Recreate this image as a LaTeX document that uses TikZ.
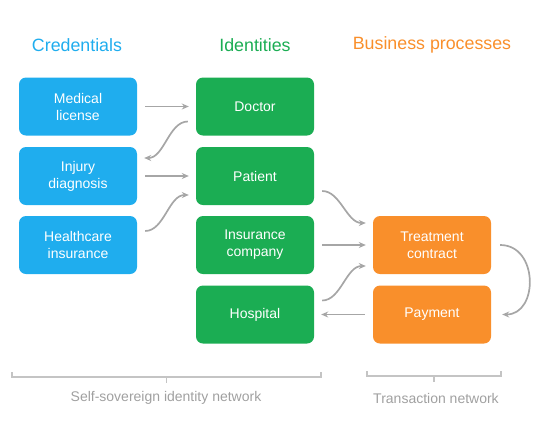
\documentclass[tikz,border=0pt]{standalone}
\usepackage{fontspec}
\setmainfont{Liberation Sans}
\usepackage{xcolor}
\usetikzlibrary{arrows.meta, positioning, calc}

\definecolor{credblue}{HTML}{1FADEE}
\definecolor{idgreen}{HTML}{1BAD53}
\definecolor{procorange}{HTML}{F98F2B}
\definecolor{linkgray}{HTML}{A6A6A6}
\definecolor{bracegray}{HTML}{C4C4C4}
\definecolor{notegray}{HTML}{A0A0A0}

\begin{document}
\begin{tikzpicture}[x=1pt, y=-1pt]
  \tikzset{
    box/.style={rounded corners=7pt, minimum width=118pt, minimum height=58pt,
      inner sep=2pt, align=center, text=white, font=\fontsize{14}{17}\selectfont},
    cred/.style={box, fill=credblue},
    ident/.style={box, fill=idgreen},
    proc/.style={box, fill=procorange},
    title/.style={font=\fontsize{17.8}{20}\selectfont},
    link/.style={-{Stealth[length=7pt, width=6pt]}, line width=1.7pt, draw=linkgray,
      shorten <=8pt, shorten >=7pt},
    brace/.style={line width=1.1pt, draw=bracegray},
    note/.style={font=\fontsize{14}{17}\selectfont, text=notegray}
  }
  \useasboundingbox (0,0) rectangle (554,429);

  % Column headings
  \node[title, text=credblue] (credtitle) at (77,45) {Credentials};
  \node[title, text=idgreen] (idtitle) at (255,45) {Identities};
  \node[title, text=procorange] (proctitle) at (432,45) {Business processes};

  % Credentials
  \node[cred] (medical) at (78,106.5) {Medical\\license};
  \node[cred] (injury) at (78,176) {Injury\\diagnosis};
  \node[cred] (health) at (78,245) {Healthcare\\insurance};

  % Identities
  \node[ident] (doctor) at (255,106.5) {Doctor};
  \node[ident] (patient) at (255,176) {Patient};
  \node[ident] (insurer) at (255,245) {Insurance\\company};
  \node[ident] (hospital) at (255,314.5) {Hospital};

  % Business processes
  \node[proc] (contract) at (432,245) {Treatment\\contract};
  \node[proc] (payment) at (432,314.5) {Payment};

  % Credentials <-> identities
  \draw[link] (medical.east) -- (doctor.west);
  \draw[link] ([yshift=-15pt]doctor.west) to[out=180, in=0] ([yshift=18pt]injury.east);
  \draw[link] (injury.east) -- (patient.west);
  \draw[link] ([yshift=14pt]health.east) to[out=0, in=180] ([yshift=-19pt]patient.west);

  % Identities <-> business processes
  \draw[link] ([yshift=-15pt]patient.east) to[out=0, in=180] ([yshift=22pt]contract.west);
  \draw[link] (insurer.east) -- (contract.west);
  \draw[link] ([yshift=14pt]hospital.east) to[out=0, in=180] ([yshift=-21pt]contract.west);
  \draw[link] (payment.west) -- (hospital.east);
  \draw[link, shorten <=9pt, shorten >=11pt] (contract.east) to[out=0, in=0, looseness=1.75] (payment.east);

  % Network brackets
  \coordinate (ssiL) at (12,377);
  \coordinate (ssiR) at (321,377);
  \coordinate (txL) at (367,376);
  \coordinate (txR) at (501,376);
  \draw[brace] ($(ssiL)+(0,-5)$) -- (ssiL) -- (ssiR) -- ++(0,-5);
  \draw[brace] ($(ssiL)!0.5!(ssiR)$) -- ++(0,6);
  \draw[brace] ($(txL)+(0,-5)$) -- (txL) -- (txR) -- ++(0,-5);
  \draw[brace] ($(txL)!0.5!(txR)$) -- ++(0,6);

  \node[note] (ssinote) at (166,398) {Self-sovereign identity network};
  \node[note] (txnote) at (436,398) {Transaction network};
\end{tikzpicture}
\end{document}
